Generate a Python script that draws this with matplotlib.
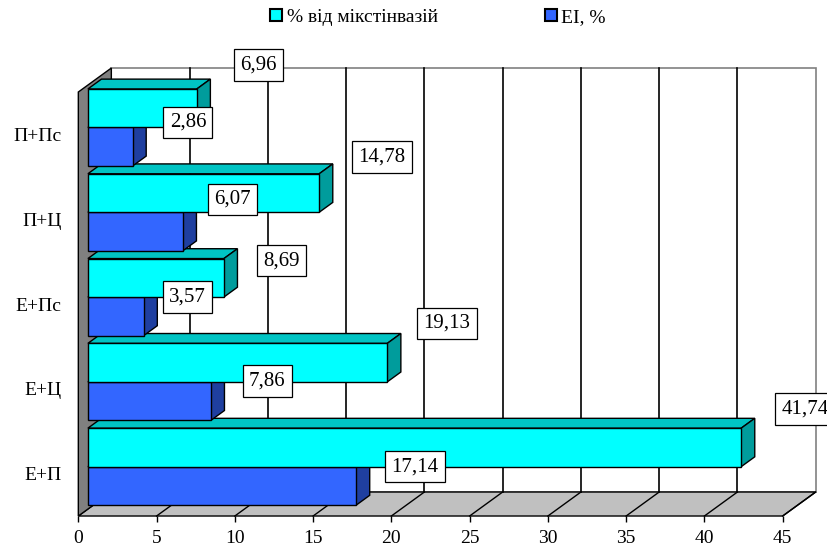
import matplotlib.pyplot as plt
from matplotlib.patches import Polygon
from matplotlib.lines import Line2D

plt.rcParams['font.family'] = ['Liberation Serif', 'DejaVu Serif']

# categories from bottom to top
categories = ['Е+П', 'Е+Ц', 'Е+Пс', 'П+Ц', 'П+Пс']
mixed_pct = [41.74, 19.13, 8.69, 14.78, 6.96]   # % від мікстінвазій
ei_pct = [17.14, 7.86, 3.57, 6.07, 2.86]        # ЕІ, %
series_names = ['% від мікстінвазій', 'ЕІ, %']

# label nudges in pixels: (left of box from bar end, box centre above bar top)
mixed_nudge = [(34, 19), (30, 20), (33, -2), (33, 17), (37, 24)]
ei_nudge = [(29, 0), (32, 1), (19, 0), (25, 13), (31, 5)]

XMAX = 45
DX, DY = 2.11, 0.283          # depth of the box (data units)
F0, F1 = 0.29, 0.70           # front / back of bars as fraction of depth
GAP = 0.046

cyan = ('#00FFFF', '#00C4C4', '#009C9C')
blue = ('#3366FF', '#2A4FC8', '#1F3FA0')

fig = plt.figure(figsize=(8.27, 5.51), dpi=100)
ax = fig.add_axes([0.0947, 0.0635, 0.8517, 0.7695])
ax.set_xlim(0, XMAX)
ax.set_ylim(0, len(categories))
for s in ax.spines.values():
    s.set_visible(False)


def poly(pts, fc, ec='black', lw=1.0, z=1):
    ax.add_patch(Polygon(pts, closed=True, facecolor=fc, edgecolor=ec,
                         linewidth=lw, zorder=z, clip_on=False,
                         joinstyle='miter'))


n = len(categories)
# back wall
poly([(DX, DY), (XMAX + DX, DY), (XMAX + DX, n + DY), (DX, n + DY)],
     'white', ec='#808080', lw=1.2, z=1)
# floor
poly([(0, 0), (XMAX, 0), (XMAX + DX, DY), (DX, DY)], '#C0C0C0', z=1)
# grid on wall and floor
for v in range(5, XMAX, 5):
    ax.plot([v + DX, v + DX], [DY, n + DY], color='black', lw=1.2,
            zorder=2, clip_on=False)
for v in range(5, XMAX + 1, 5):
    ax.plot([v, v + DX], [0, DY], color='black', lw=1.0, zorder=2,
            clip_on=False)
# side wall
poly([(0, 0), (DX, DY), (DX, n + DY), (0, n)], '#808080', z=3)

ox, oy = F0 * DX, F0 * DY
bx, by = F1 * DX, F1 * DY


def bar3d(v, y0, y1, colors, z):
    front, top, side = colors
    poly([(ox, y1 + oy), (v + ox, y1 + oy), (v + bx, y1 + by),
          (bx, y1 + by)], top, z=z)
    poly([(v + ox, y0 + oy), (v + bx, y0 + by), (v + bx, y1 + by),
          (v + ox, y1 + oy)], side, z=z)
    poly([(ox, y0 + oy), (v + ox, y0 + oy), (v + ox, y1 + oy),
          (ox, y1 + oy)], front, z=z)


z = 4
for i in range(n):
    mid = i + 0.5
    bar3d(ei_pct[i], i + GAP, mid, blue, z)
    bar3d(mixed_pct[i], mid, i + 1 - GAP, cyan, z + 1)
    z += 2


def label(v, ytop, nudge):
    ax.annotate(f'{v:.2f}'.replace('.', ','), xy=(v + ox, ytop + oy),
                xytext=(nudge[0] + 6, nudge[1]), textcoords='offset pixels',
                ha='left', va='center', fontsize=15, zorder=50,
                annotation_clip=False,
                bbox=dict(boxstyle='square,pad=0.3', fc='white',
                          ec='black', lw=0.9))


for i in range(n):
    label(mixed_pct[i], i + 1 - GAP, mixed_nudge[i])
    label(ei_pct[i], i + 0.5, ei_nudge[i])

ax.set_xticks(range(0, XMAX + 1, 5))
ax.set_yticks([i + 0.5 for i in range(n)])
ax.set_yticklabels(categories)
ax.tick_params(axis='x', direction='out', length=4, width=1, pad=6,
               labelsize=14)
ax.tick_params(axis='y', length=0, pad=12, labelsize=14)

handles = [Line2D([], [], ls='none', marker='s', markersize=8,
                  markerfacecolor=c[0], markeredgecolor='black',
                  markeredgewidth=1.5) for c in (cyan, blue)]
fig.legend(handles, series_names, loc='center', ncol=2, frameon=False,
           bbox_to_anchor=(0.529, 0.969), fontsize=14, handlelength=0.7,
           handletextpad=0.2, columnspacing=5.45)

fig.savefig('out.png', dpi=100)
